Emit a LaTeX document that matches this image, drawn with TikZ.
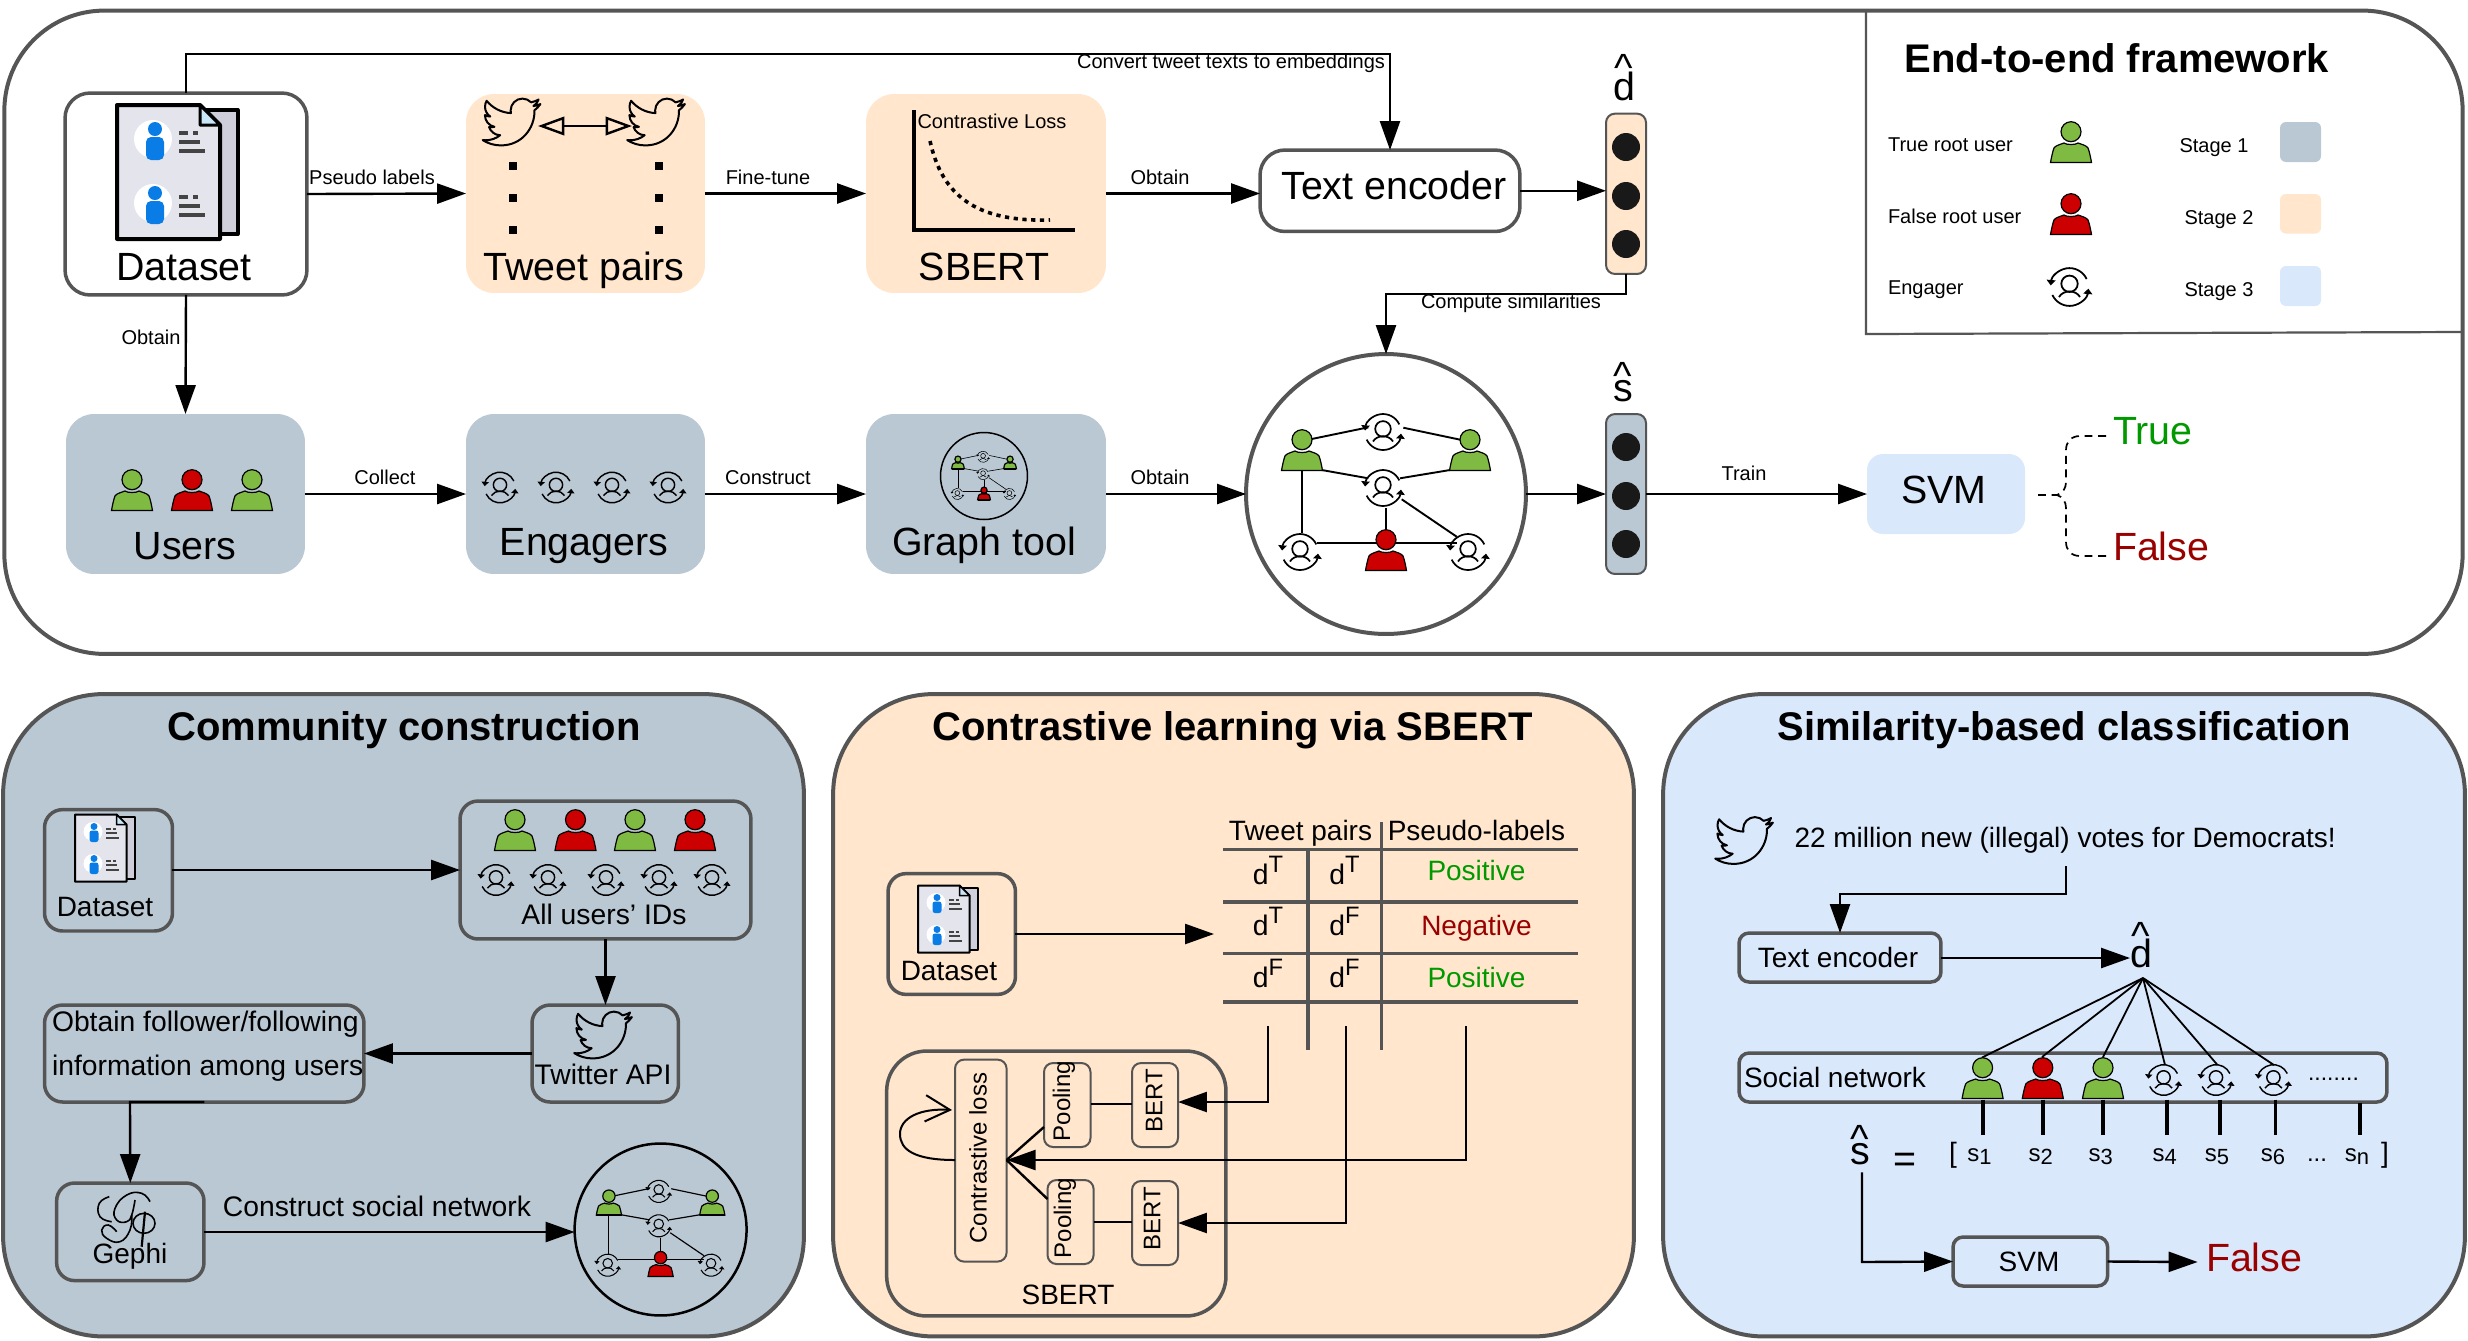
\documentclass[tikz,border=0pt]{standalone}
\usepackage{fontspec}
\setmainfont{Liberation Sans}
\usetikzlibrary{arrows.meta,calc}
\def\pxs{0.569pt}
\definecolor{stA}{HTML}{BAC8D3}
\definecolor{stB}{HTML}{FFE6CC}
\definecolor{stC}{HTML}{DAE8FC}
\definecolor{edge}{HTML}{555555}
\definecolor{gr}{HTML}{7FBA42}
\definecolor{rd}{HTML}{CC0000}
\definecolor{okc}{HTML}{009900}
\definecolor{noc}{HTML}{990000}
\definecolor{docback}{HTML}{CFCFDC}
\definecolor{docfront}{HTML}{E3E4EC}
\definecolor{docfold}{HTML}{C9E5F8}
\definecolor{docblue}{HTML}{0A7CE6}
\definecolor{docbar}{HTML}{444444}
\newcommand\fA{\fontsize{11.38}{13.6}\selectfont}
\newcommand\fB{\fontsize{15.93}{19}\selectfont}
\newcommand\fC{\fontsize{16.1}{20}\selectfont}
\newcommand\fD{\fontsize{22.4}{26.6}\selectfont}
\newcommand\fE{\fontsize{22.76}{27.3}\bfseries\selectfont}
\newcommand\fF{\fontsize{13.66}{16.4}\selectfont}
\newcommand\hatl[2]{\leavevmode\setbox0\hbox{#1}\hbox to\wd0{\hss\raisebox{#2}{\textasciicircum}\hss}\kern-\wd0 \box0}
\tikzset{
 x=0.02cm,y=-0.02cm,
 panel/.style={draw=edge,line width=4*\pxs,rounded corners=100*\pxs},
 whitebox/.style={draw=edge,fill=white,line width=3.5*\pxs,rounded corners=25*\pxs},
 framebox/.style={draw=edge,line width=3.5*\pxs,rounded corners=18*\pxs},
 thinbox/.style={draw=edge,line width=2*\pxs,rounded corners=9*\pxs},
 softbox/.style={rounded corners=28*\pxs},
 txt/.style={inner sep=0pt,outer sep=0pt,anchor=base},
 txtl/.style={inner sep=0pt,outer sep=0pt,anchor=base west},
 elab/.style={txt,font=\fA},
 big/.style={txt,font=\fD},
 midt/.style={txt,font=\fC},
 smt/.style={txt,font=\fB},
 ttl/.style={txt,font=\fE},
 rott/.style={inner sep=0pt,rotate=90,font=\fF},
 arr/.style={line width=2.4*\pxs,-{Triangle[length=16.5pt,width=11.4pt]}},
 plain/.style={line width=2.4*\pxs},
 thinln/.style={line width=1.8*\pxs},
 tablerule/.style={draw=edge,line width=3.6*\pxs},
 dot/.style={circle,fill=black!90,minimum size=28*\pxs,inner sep=0pt,outer sep=0pt},
 sq/.style={fill=black,minimum width=8*\pxs,minimum height=8*\pxs,inner sep=0pt,outer sep=0pt},
 tickln/.style={line width=3.8*\pxs},
}
\newcommand\nbx[6]{\node[#2,inner sep=0pt,outer sep=0pt,minimum width={(#5-#3)*\pxs},minimum height={(#6-#4)*\pxs}] (#1) at ({(#3+#5)/2},{(#4+#6)/2}) {};}
% person icon
\newcommand\person[4]{\begin{scope}[shift={({#1},{#2})},scale=#3]
 \fill[#4,draw=black,line width={1.2*#3*\pxs}] (-20.5,20.5) .. controls (-19.5,15) and (-18.5,10) .. (-17,6) .. controls (-15.5,3.5) and (-11,2.5) .. (-7,1) .. controls (-5,3) and (5,3) .. (7,1) .. controls (11,2.5) and (15.5,3.5) .. (17,6) .. controls (18.5,10) and (19.5,15) .. (20.5,20.5) -- cycle;
 \draw[line width={1.8*#3*\pxs}] (-20.5,20.5) -- (20.5,20.5);
 \fill[#4,draw=black,line width={1.2*#3*\pxs}] (0,-10.3) circle[radius=10];
\end{scope}}
% engager icon
\newcommand\engager[3]{\begin{scope}[shift={({#1},{#2})},scale=#3,line width={1.7*#3*\pxs}]
 \pgfmathsetlengthmacro\tipl{2.9*#3}
 \pgfmathsetlengthmacro\tipw{4.8*#3}
 \draw[-{Triangle[length=\tipl,width=\tipw]}] (16.3,-7.6) .. controls (12.85,-14.98) and (4.9,-19.15) .. (-3.13,-17.73) .. controls (-11.16,-16.31) and (-17.22,-9.69) .. (-17.93,-1.57);
 \draw[-{Triangle[length=\tipl,width=\tipw]}] (-16.3,7.6) .. controls (-12.85,14.98) and (-4.9,19.15) .. (3.13,17.73) .. controls (11.16,16.31) and (17.22,9.69) .. (17.93,1.57);
 \draw (0,-3.1) circle[radius=7.8];
 \draw (-10,9.5) .. controls (-6,2.5) and (6,2.5) .. (10,9.5);
\end{scope}}
% twitter bird
\newcommand\bird[2]{\begin{scope}[shift={({#1},{#2})},scale=2.4,shift={(-12,-12)}]
 \draw[line width=2*\pxs,line join=round] (23.95,4.57) .. controls (23.05,4.97) and (22.1,5.23) .. (21.13,5.35) .. controls (22.15,4.74) and (22.92,3.77) .. (23.29,2.62) .. controls (22.34,3.18) and (21.28,3.58) .. (20.16,3.8) .. controls (19.26,2.84) and (18,2.25) .. (16.56,2.25) .. controls (13.85,2.25) and (11.64,4.46) .. (11.64,7.17) .. controls (11.64,7.55) and (11.69,7.93) .. (11.78,8.29) .. controls (7.69,8.1) and (4.07,6.13) .. (1.64,3.16) .. controls (1.22,3.88) and (0.97,4.72) .. (0.97,5.64) .. controls (0.97,7.35) and (1.84,8.85) .. (3.16,9.73) .. controls (2.35,9.71) and (1.58,9.48) .. (0.93,9.12) -- (0.93,9.18) .. controls (0.93,11.56) and (2.63,13.55) .. (4.88,14) .. controls (4.17,14.2) and (3.4,14.23) .. (2.67,14.09) .. controls (3.29,16.04) and (5.11,17.46) .. (7.27,17.51) .. controls (5.58,18.83) and (3.47,19.61) .. (1.17,19.61) .. controls (0.78,19.61) and (0.39,19.59) .. (0,19.54) .. controls (2.18,20.94) and (4.77,21.75) .. (7.56,21.75) .. controls (16.61,21.75) and (21.55,14.26) .. (21.55,7.77) .. controls (21.55,7.56) and (21.55,7.35) .. (21.54,7.14) .. controls (22.5,6.44) and (23.33,5.55) .. (24,4.59) -- cycle;
\end{scope}}
% dataset document icon
\newcommand\docicon[3]{\begin{scope}[shift={({#1},{#2})},scale=#3,line join=round]
 \filldraw[fill=docback,draw=black,line width={4*#3*\pxs}] (-10,-62) -- (60.5,-62) -- (60.5,62) -- (-10,62) -- cycle;
 \filldraw[fill=docfront,draw=black,line width={4*#3*\pxs}] (-60,-67) -- (23,-67) -- (43,-47) -- (43,67) -- (-60,67) -- cycle;
 \filldraw[fill=docfold,draw=black,line width={3*#3*\pxs}] (23,-67) -- (43,-47) -- (23,-47) -- cycle;
 \foreach \d in {0,64}{
  \fill[white] (-24,{-33+\d}) circle[radius=19];
  \fill[docblue] (-22,{-43+\d}) circle[radius=7];
  \fill[docblue,rounded corners={5*#3*\pxs}] (-31,{-35+\d}) rectangle (-13,{-12+\d});
  \fill[docbar] (2,{-41+\d}) rectangle (11,{-37+\d});
  \fill[docbar] (16,{-41+\d}) rectangle (21,{-37+\d});
  \fill[docbar] (2,{-32+\d}) rectangle (23,{-28+\d});
  \fill[docbar] (2,{-23+\d}) rectangle (28,{-19+\d});
 }
\end{scope}}
% social graph
\newcommand\socialnet[3]{\begin{scope}[shift={({#1},{#2})},scale=#3]
 \coordinate (ga) at (-74.3,-55); \coordinate (gb) at (-17.7,-66.7);
 \coordinate (gc) at (17.3,-66.3); \coordinate (gd) at (75.7,-54);
 \coordinate (ge) at (-64.3,-24); \coordinate (gf) at (-17.7,-15.7);
 \coordinate (gg) at (14,-15.7); \coordinate (gh) at (64,-24);
 \coordinate (gi) at (-84.3,-24); \coordinate (gj) at (-84.3,39.3);
 \coordinate (gk) at (-69.3,48.7); \coordinate (gl) at (70.7,48.7);
 \coordinate (gm) at (0,14.3); \coordinate (gn) at (0,36);
 \coordinate (go) at (15.7,5.3); \coordinate (gp) at (70.7,42.7);
 \foreach \p/\q in {ga/gb,gc/gd,ge/gf,gg/gh,gi/gj,gk/gl,gm/gn,go/gp}{\draw[line width={1.9*#3*\pxs}] (\p) -- (\q);}
 \person{-84}{-44}{1}{gr}\person{84}{-44}{1}{gr}\person{0}{56}{1}{rd}
\end{scope}
\engager{#1+(#3*-3)}{#2+(#3*-62)}{#3}\engager{#1+(#3*-3)}{#2+(#3*-6)}{#3}\engager{#1+(#3*-86)}{#2+(#3*58)}{#3}\engager{#1+(#3*82)}{#2+(#3*58)}{#3}}
\begin{document}
\begin{tikzpicture}
\useasboundingbox (0,0) rectangle (2468,1340);
\fill[white] (0,0) rectangle (2468,1340);
% ---------- top panel
\nbx{toppanel}{panel,fill=white}{4}{10.5}{2463}{654}
\coordinate (lgtop) at (1866,12); \coordinate (lgcorner) at (1866,334); \coordinate (lgright) at (2462,332);
\draw[draw=edge,line width=2.2*\pxs] (lgtop) -- (lgcorner) -- (lgright);
\nbx{dataset}{whitebox}{65}{93}{307}{295}
\nbx{tweets}{softbox,fill=stB}{466}{94}{705}{293}
\nbx{sbert}{softbox,fill=stB}{866}{94}{1106}{293}
\nbx{users}{softbox,fill=stA}{66}{414}{305}{574}
\nbx{engagers}{softbox,fill=stA}{466}{414}{705}{574}
\nbx{graphtool}{softbox,fill=stA}{866}{414}{1106}{574}
\nbx{textenc}{whitebox}{1260}{150}{1520}{231.5}
\nbx{dvec}{thinbox,fill=stB}{1606}{113.6}{1646}{274}
\nbx{svec}{thinbox,fill=stA}{1606}{414}{1646}{574}
\node[draw=edge,fill=white,circle,line width=4*\pxs,minimum size=280*\pxs,inner sep=0pt,outer sep=0pt] (net) at (1386,494) {};
\nbx{svm}{softbox,rounded corners=16*\pxs,fill=stC}{1867}{454}{2025}{534}
\foreach \n/\y in {da/147,db/196,dc/244}{\node[dot] (\n) at (1626,\y) {};}
\foreach \n/\y in {sa/447,sb/496,sc/544}{\node[dot] (\n) at (1626,\y) {};}
\docicon{177}{172}{1}
\bird{511.5}{122}\bird{656}{122}
\coordinate (bl) at (538,126); \coordinate (br) at (632,126);
\draw[line width=2.4*\pxs,{Triangle[open,length=15pt,width=10.5pt]}-{Triangle[open,length=15pt,width=10.5pt]}] (bl) -- (br);
\foreach \n/\x/\y in {qa/513/166,qb/513/198,qc/513/230,qd/659/166,qe/659/198,qf/659/230}{\node[sq] (\n) at (\x,\y) {};}
\coordinate (ay) at (914,110); \coordinate (ao) at (914,230); \coordinate (ax) at (1075,230);
\draw[line width=3.5*\pxs] (ay) -- (ao) -- (ax);
\coordinate (ca) at (930,141); \coordinate (cb) at (1050,220);
\draw[line width=3.6*\pxs,dash pattern=on 2.4pt off 2.6pt] (ca) .. controls (942,195) and (975,222) .. (cb);
\node[elab] (closs) at (992,128) {Contrastive Loss};
\person{132}{490}{1}{gr}\person{192}{490}{1}{rd}\person{252}{490}{1}{gr}
\engager{500}{487.5}{0.85}\engager{556}{487.5}{0.85}\engager{612}{487.5}{0.85}\engager{668}{487.5}{0.85}
\node[draw=black,circle,line width=1.5*\pxs,minimum size=87*\pxs,inner sep=0pt,fill=none] (minigraph) at (984,476) {};
\socialnet{984}{476}{0.31}
\socialnet{1386}{494}{1}
\node[big] (tdata) at (184,280) {Dataset};
\node[big] (ttweet) at (584,280) {Tweet pairs};
\node[big] (tsb) at (984,280) {SBERT};
\node[big] (tusers) at (185,559) {Users};
\node[big] (tenga) at (584,555.5) {Engagers};
\node[big] (tgt) at (984,555.5) {Graph tool};
\node[big] (tte) at (1394,199) {Text encoder};
\node[big] (tsvm) at (1944,503) {SVM};
\node[txtl,font=\fD,text=okc] (ttrue) at (2113,444) {True};
\node[txtl,font=\fD,text=noc] (tfalse) at (2113,560) {False};
\node[big] (dletter) at (1624,100) {\hatl{d}{10.5pt}};
\node[big] (sletter) at (1623,401) {\hatl{s}{6.8pt}};
% connectors
\coordinate (c1) at (186,54); \coordinate (c2) at (1390,54);
\draw[arr] (dataset.north) -- (c1) -- (c2) -- (textenc.north -| c2);
\node[elab] (lconv) at (1231,68) {Convert tweet texts to embeddings};
\draw[arr] (dataset.east) -- (tweets.west);
\node[elab] (lps) at (372,184) {Pseudo labels};
\draw[arr] (tweets.east) -- (sbert.west);
\node[elab] (lft) at (768,184) {Fine-tune};
\draw[arr] (sbert.east) -- (textenc.west |- sbert.east);
\node[elab] (lob) at (1160,184) {Obtain};
\draw[arr] (textenc.east) -- (dvec.west |- textenc.east);
\draw[arr] (dataset.south) -- (users.north);
\node[elab] (lob2) at (151,344) {Obtain};
\draw[arr] (users.east) -- (engagers.west);
\node[elab] (lcol) at (385,484) {Collect};
\draw[arr] (engagers.east) -- (graphtool.west);
\node[elab] (lcon) at (768,484) {Construct};
\draw[arr] (graphtool.east) -- (net.west);
\node[elab] (lob3) at (1160,484) {Obtain};
\draw[arr] (net.east) -- (svec.west);
\draw[arr] (svec.east) -- (svm.west);
\node[elab] (ltr) at (1744,480) {Train};
\coordinate (c3) at (1626,294); \coordinate (c4) at (1386,294);
\draw[arr] (dvec.south) -- (c3) -- (c4) -- (net.north);
\node[elab] (lsim) at (1511,308.5) {Compute similarities};
\coordinate (sv) at (2036,495); \coordinate (up) at (2106,436); \coordinate (dn) at (2106,556);
\draw[line width=1.7*\pxs,dash pattern=on 4.5pt off 3.2pt] (up) -- (2080,436) .. controls (2071,436) and (2066,442) .. (2066,450) -- (2066,482) .. controls (2066,488) and (2063,493) .. (2057,495) -- (sv);
\draw[line width=1.7*\pxs,dash pattern=on 4.5pt off 3.2pt] (dn) -- (2080,556) .. controls (2071,556) and (2066,550) .. (2066,542) -- (2066,508) .. controls (2066,502) and (2063,497) .. (2057,495);
% legend
\node[ttl] (lgt) at (2117,72) {End-to-end framework};
\node[txtl,font=\fA] (la) at (1888,151.5) {True root user};
\node[txtl,font=\fA] (lb) at (1888,223) {False root user};
\node[txtl,font=\fA] (lc) at (1888,294.6) {Engager};
\person{2071}{142}{1}{gr}\person{2071}{214}{1}{rd}\engager{2069.5}{287}{1.05}
\node[elab] (sa1) at (2214,152) {Stage 1};
\node[elab] (sa2) at (2219,224) {Stage 2};
\node[elab] (sa3) at (2219,296) {Stage 3};
\nbx{ka}{rounded corners=6*\pxs,fill=stA}{2280}{122}{2321}{162}
\nbx{kb}{rounded corners=6*\pxs,fill=stB}{2280}{194}{2321}{233.6}
\nbx{kc}{rounded corners=6*\pxs,fill=stC}{2280}{266}{2321}{306}
% ---------- panel 1
\nbx{pa}{panel,fill=stA}{3}{694}{804}{1336.5}
\node[ttl] (pat) at (404,740) {Community construction};
\nbx{pdata}{framebox}{44.5}{809.6}{172.5}{931}
\docicon{105}{848}{0.5}
\node[smt] (pdt) at (105,916) {Dataset};
\nbx{ids}{framebox}{460}{801}{751}{939}
\foreach \x/\c in {515/gr,575.5/rd,635/gr,695/rd}{\person{\x}{830}{1}{\c}}
\foreach \x in {496,548,606,659,712}{\engager{\x}{880}{0.85}}
\node[midt] (idt) at (604,924) {All users' IDs};
\nbx{api}{framebox}{532}{1005}{678.5}{1102}
\bird{603}{1035}
\node[midt] (apit) at (603,1084) {Twitter API};
\nbx{follow}{framebox}{44.5}{1005}{364}{1102}
\node[txtl,font=\fC] (fa) at (52,1031) {Obtain follower/following};
\node[txtl,font=\fC] (fb) at (52,1075) {information among users};
\nbx{gephi}{framebox}{56.6}{1183}{204}{1280.6}
\draw[line width=1.6*\pxs] plot[smooth,tension=0.8] coordinates {(109.3,1196.7) (99.3,1203.3) (100,1216.7) (111.7,1221.7)};
\draw[line width=1.6*\pxs] plot[smooth,tension=0.8] coordinates {(150,1201.7) (141.7,1193.3) (126.7,1195) (115,1208.3) (116.7,1220) (126.7,1221.7) (131.7,1215) (135,1200)};
\draw[line width=1.6*\pxs] plot[smooth,tension=0.8] coordinates {(131.7,1215) (130,1230) (120,1241.7) (106.7,1238.3) (101.7,1230) (108.3,1225) (116.7,1231.7)};
\draw[line width=2.2*\pxs] (145,1211.7) -- (141.7,1246.7);
\draw[line width=1.6*\pxs] (144,1223.3) circle[x radius=11,y radius=10];
\node[smt] (gpt) at (130,1263) {Gephi};
\node[draw=black,circle,line width=2.5*\pxs,minimum size=172*\pxs,inner sep=0pt,outer sep=0pt] (pnet) at (660.6,1229.5) {};
\socialnet{660.6}{1229.5}{0.615}
\draw[arr] (pdata.east |- 0,870) -- (ids.west |- 0,870);
\draw[arr] (ids.south -| 605.5,0) -- (api.north -| 605.5,0);
\draw[arr] (api.west) -- (follow.east);
\coordinate (fg) at (130,1102);
\draw[arr] (follow.south) -- (fg) -- (gephi.north);
\draw[arr] (gephi.east |- 0,1232) -- (pnet.west |- 0,1232);
\node[midt] (cst) at (377,1216.6) {Construct social network};
% ---------- panel 2
\nbx{pb}{panel,fill=stB}{833}{694}{1634}{1336.5}
\node[ttl] (pbt) at (1232.5,740) {Contrastive learning via SBERT};
\nbx{qdata}{framebox}{888}{873.6}{1015.5}{994.4}
\docicon{948}{919}{0.5}
\node[smt] (qdt) at (949,980) {Dataset};
\coordinate (tbl) at (1214,934);
\draw[arr] (qdata.east |- tbl) -- (tbl);
\node[smt] (hd1) at (1300.5,840) {Tweet pairs};
\node[smt] (hd2) at (1476.5,840) {Pseudo-labels};
\foreach \n/\y in {ra/849.6,rb/901.8,rc/953.6,rr/1002}{\coordinate (\n l) at (1223,\y);\coordinate (\n r) at (1578,\y);\draw[tablerule] (\n l) -- (\n r);}
\coordinate (va) at (1308,849.6); \coordinate (vb) at (1308,1049.5);
\coordinate (vc) at (1381.5,822); \coordinate (vd) at (1381.5,1049.5);
\draw[tablerule] (va) -- (vb); \draw[tablerule] (vc) -- (vd);
\newcommand\dsup[1]{d\raisebox{0.42em}{\fontsize{13.5}{14}\selectfont #1}}
\foreach \n/\x/\y/\t in {ca1/1268/884/T,ca2/1344.5/884/T,cb1/1268/935.5/T,cb2/1344.5/935.5/F,cc1/1268/987/F,cc2/1344.5/987/F}{\node[midt] (\n) at (\x,\y) {\dsup{\t}};}
\node[txt,font=\fB,text=okc] (pos1) at (1476.5,880) {Positive};
\node[txt,font=\fB,text=noc] (neg1) at (1476.5,935.5) {Negative};
\node[txt,font=\fB,text=okc] (pos2) at (1476.5,987) {Positive};
\nbx{sbbox}{framebox,rounded corners=40*\pxs}{886.6}{1051}{1226}{1316}
\node[smt] (sbt) at (1068,1304) {SBERT};
\nbx{cl}{thinbox}{955}{1059.6}{1006.6}{1261.6}
\node[rott] (clt) at (978,1158) {Contrastive loss};
\nbx{poola}{thinbox}{1044}{1063}{1090.5}{1147}
\node[rott] (pat1) at (1064,1101) {Pooling};
\nbx{berta}{thinbox}{1132}{1063}{1178}{1147}
\node[rott] (bat) at (1154,1101) {BERT};
\nbx{poolb}{thinbox}{1047.5}{1180}{1093.6}{1264}
\node[rott] (pat2) at (1065,1218) {Pooling};
\nbx{bertb}{thinbox}{1132}{1181}{1178}{1265}
\node[rott] (bbt) at (1152,1219) {BERT};
\draw[plain] (poola.east |- 0,1104) -- (berta.west |- 0,1104);
\draw[plain] (poolb.east |- 0,1222) -- (bertb.west |- 0,1222);
\coordinate (clp) at (1006.6,1160);
\coordinate (pla) at (1044,1127); \coordinate (plb) at (1047.5,1199);
\draw[plain] (pla) -- (clp);
\draw[plain] (plb) -- (clp);
\coordinate (ta) at (1268,1026); \coordinate (tb) at (1346,1026); \coordinate (tc) at (1466,1026);
\draw[arr] (ta) |- (berta.east |- 0,1102);
\draw[arr] (tb) |- (bertb.east |- 0,1223);
\draw[arr] (tc) |- (clp);
\coordinate (loop) at (952,1110);
\draw[line width=2*\pxs,-{Straight Barb[length=14pt,width=15pt]}] (cl.west |- clp) .. controls (915,1160) and (900,1150) .. (900,1134) .. controls (900,1118) and (920,1108) .. (loop);
% ---------- panel 3
\nbx{pc}{panel,fill=stC}{1663}{694}{2465}{1336.5}
\node[ttl] (pct) at (2064,740) {Similarity-based classification};
\bird{1744}{840.5}
\node[txtl,font=\fB] (tweet) at (1794.5,847.5) {22 million new (illegal) votes for Democrats!};
\nbx{te2}{framebox,rounded corners=10*\pxs}{1739}{933}{1941}{982}
\node[smt] (te2t) at (1838,967.5) {Text encoder};
\coordinate (ua) at (2066,866); \coordinate (ub) at (2066,893.8); \coordinate (uc) at (1840,893.8);
\draw[arr] (ua) -- (ub) -- (uc) -- (te2.north -| uc);
\node[big] (d2) at (2141,967) {\hatl{d}{9.7pt}};
\coordinate (d2in) at (2130,958);
\draw[arr] (te2.east |- d2in) -- (d2in);
\nbx{sn}{framebox,rounded corners=10*\pxs}{1739}{1053}{2387}{1102}
\node[txtl,font=\fB] (snt) at (1744,1087.4) {Social network};
\coordinate (dh) at (2143,978);
\foreach \x/\y in {1982/1057.5,2042/1057,2103/1057,2165/1065,2217.5/1065,2274/1065}{\coordinate (tp) at (\x,\y);\draw[thinln] (dh) -- (tp);}
\person{1982.6}{1078}{1}{gr}\person{2042.8}{1078}{1}{rd}\person{2103}{1078}{1}{gr}
\engager{2163.6}{1080}{0.85}\engager{2216}{1080}{0.85}\engager{2273.4}{1080}{0.85}
\node[txt,font=\fontsize{13}{15}\selectfont] (sndots) at (2333.5,1080) {........};
\foreach \x/\y in {1982.6/1099.6,2042.8/1099.6,2103/1099.6,2167/1099.6,2219.6/1099.6,2275.5/1099.6,2359.7/1103}{\coordinate (ka) at (\x,\y);\coordinate (kb) at (\x,1135);\draw[tickln] (ka) -- (kb);}
\node[big] (s3) at (1860,1164) {\hatl{s}{6.3pt}};
\node[big] (eq) at (1905,1172) {=};
\node[txt,font=\fB] (lbr) at (1953,1162) {[};
\node[txt,font=\fB] (rbr) at (2385,1162) {]};
\newcommand\subn[2]{\fF #1\raisebox{-0.16em}{\fontsize{12.5}{14}\selectfont #2}}
\foreach \n/\x/\t in {e1/1979.5/1,e2/2040.7/2,e3/2100.8/3,e4/2164.6/4,e5/2217/5,e6/2273/6,en/2357/n}{\node[txt] (\n) at (\x,1161) {\subn{s}{\t}};}
\node[txt,font=\fF] (edots) at (2317,1161) {...};
\nbx{svm2}{framebox,rounded corners=10*\pxs}{1953}{1237}{2107.6}{1286}
\node[smt] (svm2t) at (2029,1271) {SVM};
\coordinate (sh) at (1862,1172.4); \coordinate (shb) at (1862,1262);
\draw[arr] (sh) -- (shb) -- (svm2.west);
\coordinate (fl) at (2197.6,1262);
\draw[arr] (svm2.east) -- (fl);
\node[txtl,font=\fD,text=noc] (f2) at (2206,1271) {False};
\end{tikzpicture}
\end{document}
